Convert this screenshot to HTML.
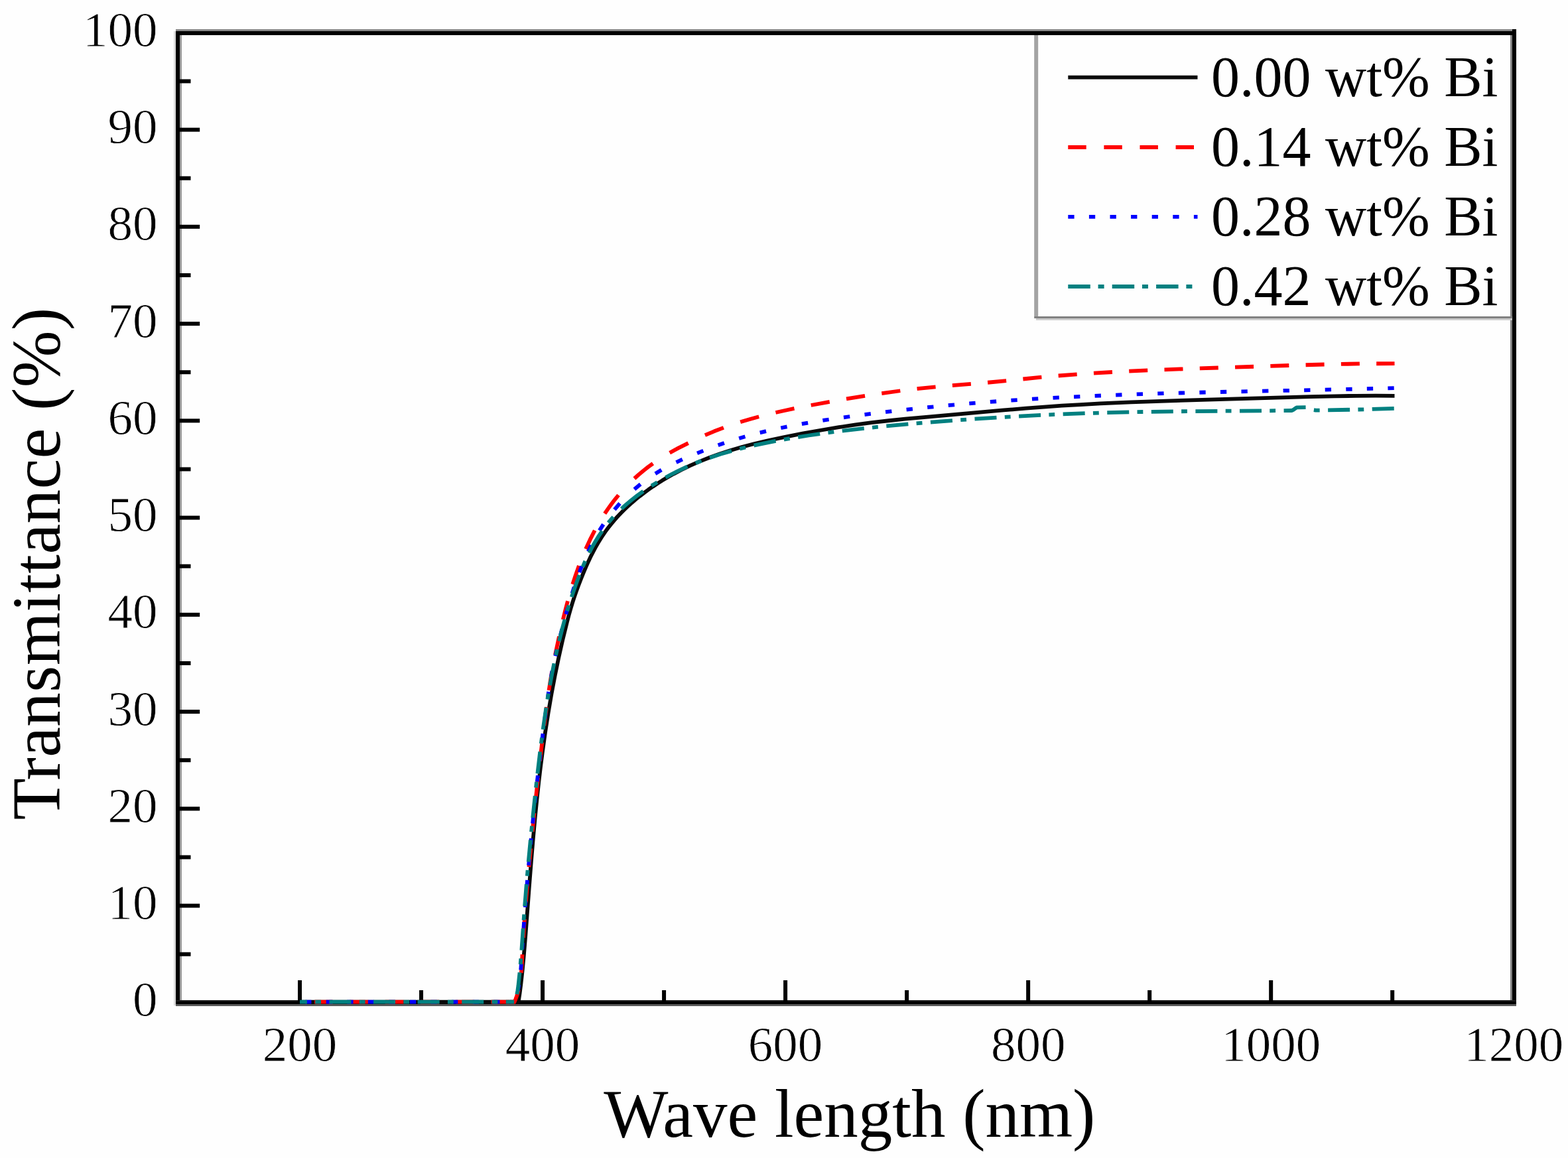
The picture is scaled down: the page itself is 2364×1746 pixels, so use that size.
<!DOCTYPE html>
<html><head><meta charset="utf-8"><title>Transmittance</title>
<style>html,body{margin:0;padding:0;background:#fefefe;}svg{display:block;}</style>
</head><body>
<svg width="2364" height="1746" viewBox="0 0 2364 1746"><rect width="2364" height="1746" fill="#fefefe"/><g fill="#000"><rect x="262" y="47" width="3" height="1469" fill="#dcdcdc"/><rect x="271" y="53" width="3" height="1455" fill="#9a9a9a"/><rect x="265" y="44" width="6" height="1473" fill="#000"/><rect x="265" y="44" width="2021" height="3.5" fill="#888"/><rect x="265" y="47" width="2021" height="6" fill="#000"/><rect x="2277" y="53" width="3" height="1455" fill="#808080"/><rect x="2280" y="44" width="6" height="1473" fill="#000"/><rect x="265" y="1508" width="2021" height="2" fill="#1e1e1e"/><rect x="265" y="1510" width="2021" height="4" fill="#000"/><rect x="265" y="1514" width="2021" height="3" fill="#5a5a5a"/></g><g fill="#000"><rect x="449.02" y="1478" width="6" height="32"/><rect x="632.04" y="1493" width="6" height="17"/><rect x="815.06" y="1478" width="6" height="32"/><rect x="998.08" y="1493" width="6" height="17"/><rect x="1181.10" y="1478" width="6" height="32"/><rect x="1364.12" y="1493" width="6" height="17"/><rect x="1547.14" y="1478" width="6" height="32"/><rect x="1730.16" y="1493" width="6" height="17"/><rect x="1913.18" y="1478" width="6" height="32"/><rect x="2096.20" y="1493" width="6" height="17"/><rect x="270" y="1435.72" width="17.50" height="6"/><rect x="270" y="1362.60" width="31.20" height="6"/><rect x="270" y="1289.47" width="17.50" height="6"/><rect x="270" y="1216.35" width="31.20" height="6"/><rect x="270" y="1143.22" width="17.50" height="6"/><rect x="270" y="1070.10" width="31.20" height="6"/><rect x="270" y="996.97" width="17.50" height="6"/><rect x="270" y="923.85" width="31.20" height="6"/><rect x="270" y="850.72" width="17.50" height="6"/><rect x="270" y="777.60" width="31.20" height="6"/><rect x="270" y="704.47" width="17.50" height="6"/><rect x="270" y="631.35" width="31.20" height="6"/><rect x="270" y="558.22" width="17.50" height="6"/><rect x="270" y="485.10" width="31.20" height="6"/><rect x="270" y="411.97" width="17.50" height="6"/><rect x="270" y="338.85" width="31.20" height="6"/><rect x="270" y="265.72" width="17.50" height="6"/><rect x="270" y="192.60" width="31.20" height="6"/><rect x="270" y="119.47" width="17.50" height="6"/></g><path d="M452.00,1510.70 781.55,1510.76 783.49,1498.40 785.36,1483.95 787.52,1464.40 789.58,1443.03 792.32,1410.26 797.89,1336.53 800.89,1298.48 803.86,1263.49 806.78,1231.74 809.37,1205.87 812.06,1181.18 814.88,1157.28 817.85,1134.09 822.08,1103.94 826.61,1074.72 831.46,1046.37 836.63,1018.87 842.26,991.58 848.27,964.89 854.94,937.75 857.82,926.85 860.55,917.14 863.13,908.60 865.82,900.31 868.80,891.70 872.11,882.67 875.90,872.86 879.75,863.36 883.46,854.66 887.18,846.39 890.66,839.11 894.21,832.08 897.78,825.42 901.41,819.03 905.12,812.92 908.93,807.01 912.81,801.38 916.80,795.95 921.20,790.34 925.84,784.78 930.71,779.30 935.75,773.95 941.01,768.67 946.56,763.40 952.33,758.21 958.32,753.11 964.51,748.09 970.99,743.11 977.66,738.24 984.52,733.47 991.49,728.86 998.64,724.36 1005.90,720.02 1013.33,715.80 1026.79,708.68 1040.77,701.94 1055.16,695.63 1070.02,689.73 1085.43,684.21 1101.56,679.00 1118.50,674.06 1136.53,669.32 1157.75,664.30 1181.21,659.29 1209.86,653.70 1238.66,648.51 1264.70,644.21 1289.92,640.45 1314.13,637.24 1339.76,634.25 1364.55,631.69 1393.09,629.02 1513.22,618.48 1546.57,615.67 1573.97,613.56 1600.80,611.73 1629.11,610.02 1658.80,608.47 1704.99,606.43 1757.28,604.55 1975.30,598.13 2011.79,597.31 2044.18,596.84 2074.22,596.72 2102.50,596.93" fill="none" stroke="#0a0a0a" stroke-width="5.8" stroke-linejoin="round"/><path d="M474.08,1510.70 502.08,1510.70 M527.35,1510.70 555.35,1510.70 M580.63,1510.70 608.63,1510.70 M633.90,1510.70 661.90,1510.70 M687.18,1510.70 715.18,1510.70 M740.45,1510.70 768.45,1510.70 M769.00,1510.70 775.00,1510.70 775.48,1510.87 777.33,1506.55 779.02,1501.98 780.52,1497.26 781.85,1492.32 M785.83,1467.04 786.62,1456.38 787.54,1439.04 M789.00,1413.77 790.90,1385.77 M792.83,1360.49 795.19,1332.49 M797.47,1307.22 800.13,1279.22 M802.63,1253.94 805.48,1225.94 M808.13,1200.67 811.18,1172.67 M814.03,1147.39 817.31,1119.39 M820.40,1094.12 823.99,1066.12 M827.54,1040.84 829.79,1026.42 832.09,1012.84 M836.96,987.57 842.98,959.57 M848.80,934.29 852.40,919.79 855.96,906.29 M863.33,881.02 868.01,866.67 872.87,853.02 M883.09,827.74 889.72,813.42 896.72,799.74 M911.73,774.47 916.71,767.10 921.85,759.95 927.14,753.05 932.51,746.47 M956.38,721.50 963.11,715.48 970.01,709.70 977.09,704.14 984.38,698.79 M1009.65,682.70 1022.13,675.90 1037.65,668.06 M1062.93,656.15 1076.70,650.33 1090.93,644.84 M1116.20,636.28 1129.90,632.18 1144.20,628.24 M1169.48,622.01 1183.05,618.99 1197.48,615.96 M1222.75,611.02 1250.75,605.89 M1276.03,601.48 1304.03,596.90 M1329.30,593.08 1357.30,589.25 M1382.58,586.21 1410.58,583.35 M1435.85,581.14 1463.85,578.87 M1489.13,576.75 1517.13,574.11 M1542.40,571.49 1570.40,568.72 M1595.68,566.51 1623.68,564.36 M1648.95,562.65 1676.95,560.99 M1702.23,559.67 1730.23,558.38 M1755.50,557.33 1783.50,556.29 M1808.78,555.42 1836.78,554.49 M1862.05,553.68 1890.05,552.76 M1915.33,551.92 1943.33,551.02 M1968.60,550.26 1996.60,549.50 M2021.88,548.94 2049.88,548.47 M2075.15,548.23 2102.50,548.18" fill="none" stroke="#ff0000" stroke-width="5.8" stroke-linejoin="round"/><path d="M460.16,1510.70 469.46,1510.70 M491.71,1510.70 501.01,1510.70 M523.27,1510.70 532.57,1510.70 M554.82,1510.70 564.12,1510.70 M586.38,1510.70 595.68,1510.70 M617.93,1510.70 627.23,1510.70 M649.49,1510.70 658.79,1510.70 M681.04,1510.70 690.34,1510.70 M712.60,1510.70 721.90,1510.70 M744.15,1510.70 753.45,1510.70 M769.50,1510.70 770.44,1510.70 M780.73,1494.09 782.53,1484.79 M785.17,1462.54 785.87,1453.24 M787.28,1430.98 787.88,1421.68 M789.41,1399.43 790.08,1390.13 M791.75,1367.87 792.47,1358.57 M794.28,1336.32 795.06,1327.02 M797.01,1304.76 797.85,1295.46 M799.92,1273.21 800.82,1263.91 M803.02,1241.65 803.97,1232.35 M806.31,1210.10 807.31,1200.80 M809.78,1178.54 810.84,1169.24 M813.45,1146.99 814.57,1137.69 M817.30,1115.43 818.48,1106.13 M821.36,1083.88 822.59,1074.58 M825.71,1052.32 827.12,1043.02 M830.84,1020.76 832.58,1011.46 M837.27,989.21 839.43,979.91 M844.92,957.65 847.31,948.35 M853.26,926.10 855.88,916.80 M862.59,894.54 865.61,885.24 M873.49,862.99 877.11,853.69 M886.77,831.43 891.32,822.13 M903.73,799.88 909.71,790.58 M926.40,768.32 934.52,759.02 M956.40,737.69 965.70,729.97 M987.96,714.20 997.26,708.59 M1019.51,697.01 1028.81,692.73 M1051.07,683.34 1060.37,679.64 M1082.62,671.28 1091.92,668.04 M1114.18,660.98 1123.48,658.29 M1145.73,652.40 1155.03,650.15 M1177.29,645.22 1186.59,643.32 M1208.84,639.14 1218.14,637.52 M1240.40,633.91 1249.70,632.50 M1271.95,629.29 1281.25,628.00 M1303.51,625.05 1312.81,623.86 M1335.06,621.13 1344.36,620.03 M1366.62,617.52 1375.92,616.51 M1398.17,614.21 1407.47,613.29 M1429.73,611.18 1439.03,610.34 M1461.28,608.43 1470.58,607.67 M1492.84,605.95 1502.14,605.26 M1524.40,603.71 1533.70,603.09 M1555.95,601.70 1565.25,601.15 M1587.51,599.90 1596.81,599.41 M1619.06,598.30 1628.36,597.86 M1650.62,596.87 1659.92,596.48 M1682.17,595.59 1691.47,595.25 M1713.73,594.46 1723.03,594.15 M1745.28,593.45 1754.58,593.17 M1776.84,592.55 1786.14,592.30 M1808.39,591.73 1817.69,591.50 M1839.95,590.98 1849.25,590.77 M1871.50,590.28 1880.80,590.08 M1903.06,589.62 1912.36,589.42 M1934.61,588.97 1943.91,588.78 M1966.17,588.32 1975.47,588.13 M1997.72,587.66 2007.02,587.46 M2029.28,586.96 2038.58,586.74 M2060.83,586.21 2070.13,585.97 M2092.39,585.38 2101.69,585.12" fill="none" stroke="#0000ff" stroke-width="5.8" stroke-linejoin="round"/><path d="M452.00,1510.70 462.90,1510.70 M475.20,1510.70 484.00,1510.70 M496.48,1510.70 529.48,1510.70 M541.78,1510.70 550.58,1510.70 M563.06,1510.70 596.06,1510.70 M608.36,1510.70 617.16,1510.70 M629.64,1510.70 662.64,1510.70 M674.94,1510.70 683.74,1510.70 M696.22,1510.70 729.22,1510.70 M741.52,1510.70 750.32,1510.70 M762.80,1510.70 770.00,1510.70 M770.00,1510.70 775.10,1510.70 M779.33,1499.31 780.38,1493.66 781.30,1487.26 783.53,1466.31 M784.65,1454.01 785.39,1445.21 M786.37,1432.73 788.71,1399.73 M789.57,1387.43 790.19,1378.63 M791.12,1366.15 793.76,1333.15 M794.81,1320.85 795.58,1312.05 M796.70,1299.57 799.83,1266.57 M801.04,1254.27 801.93,1245.47 M803.20,1232.99 806.69,1199.99 M808.02,1187.69 808.99,1178.89 M810.39,1166.41 814.27,1133.41 M815.80,1121.11 816.94,1112.31 M818.61,1099.83 823.42,1066.83 M825.38,1054.53 826.85,1045.73 M829.03,1033.25 832.14,1016.55 835.40,1000.25 M838.02,987.95 840.00,979.15 M842.93,966.68 847.12,950.01 851.55,933.68 M855.10,921.38 857.77,912.58 M861.75,900.10 867.67,882.74 873.49,867.10 M878.49,854.80 882.35,846.00 M888.32,833.52 892.96,824.66 897.78,816.17 902.75,808.13 907.87,800.52 M917.13,788.22 920.85,783.77 924.70,779.42 M936.86,767.10 944.36,760.36 952.36,753.71 960.85,747.16 969.86,740.70 M982.16,732.56 990.96,727.13 M1003.44,719.93 1011.53,715.57 1019.72,711.38 1028.00,707.37 1036.44,703.49 M1048.74,698.23 1057.54,694.74 M1070.02,690.14 1086.21,684.77 1103.02,679.85 M1115.32,676.61 1124.12,674.46 M1136.60,671.62 1152.24,668.32 1169.60,664.94 M1181.90,662.69 1190.70,661.15 M1203.18,659.07 1219.52,656.50 1236.18,654.06 M1248.48,652.37 1257.28,651.21 M1269.76,649.64 1302.76,645.84 M1315.06,644.54 1323.86,643.65 M1336.34,642.43 1369.34,639.44 M1381.64,638.39 1390.44,637.65 M1402.92,636.64 1435.92,634.10 M1448.22,633.20 1457.02,632.58 M1469.50,631.71 1502.50,629.58 M1514.80,628.84 1523.60,628.33 M1536.08,627.63 1569.08,625.94 M1581.38,625.36 1590.18,624.97 M1602.66,624.44 1635.66,623.20 M1647.96,622.80 1656.76,622.53 M1669.24,622.18 1702.24,621.40 M1714.54,621.16 1723.34,621.00 M1735.82,620.80 1768.82,620.36 M1781.12,620.23 1789.92,620.14 M1802.40,620.03 1835.40,619.79 M1847.70,619.71 1856.50,619.65 M1868.98,619.57 1901.98,619.37 M1914.28,619.28 1923.08,619.22 M1935.56,619.11 1947.05,619.01 1947.74,618.92 1948.62,618.60 1949.60,618.06 1953.73,615.08 1954.71,614.59 1955.60,614.36 1968.56,614.21 M1980.86,618.18 1983.50,618.60 1989.66,618.53 M2002.14,618.34 2035.14,617.75 M2047.44,617.49 2056.24,617.28 M2068.72,616.96 2101.72,615.94" fill="none" stroke="#008080" stroke-width="5.8" stroke-linejoin="round"/><g font-family="'Liberation Serif', 'Times New Roman', serif" font-size="75" fill="#000" stroke="#fefefe" stroke-width="0.8"><text x="237.4" y="1532.45" text-anchor="end">0</text><text x="237.4" y="1386.20" text-anchor="end">10</text><text x="237.4" y="1239.95" text-anchor="end">20</text><text x="237.4" y="1093.70" text-anchor="end">30</text><text x="237.4" y="947.45" text-anchor="end">40</text><text x="237.4" y="801.20" text-anchor="end">50</text><text x="237.4" y="654.95" text-anchor="end">60</text><text x="237.4" y="508.70" text-anchor="end">70</text><text x="237.4" y="362.45" text-anchor="end">80</text><text x="237.4" y="216.20" text-anchor="end">90</text><text x="237.4" y="69.95" text-anchor="end">100</text><text x="452.02" y="1599.6" text-anchor="middle">200</text><text x="818.06" y="1599.6" text-anchor="middle">400</text><text x="1184.10" y="1599.6" text-anchor="middle">600</text><text x="1550.14" y="1599.6" text-anchor="middle">800</text><text x="1916.18" y="1599.6" text-anchor="middle">1000</text><text x="2282.22" y="1599.6" text-anchor="middle">1200</text></g><text font-family="'Liberation Serif', 'Times New Roman', serif" font-size="103" x="910.3" y="1713.7">Wave length (nm)</text><text font-family="'Liberation Serif', 'Times New Roman', serif" font-size="103" textLength="772.5" lengthAdjust="spacing" transform="translate(89.6,1236.3) rotate(-90)">Transmittance (%)</text><rect x="1559.2" y="53" width="6" height="424" fill="#a4a4a4"/><rect x="1559.2" y="477" width="721" height="3" fill="#818181"/><rect x="1562" y="480" width="718" height="2.8" fill="#cacaca"/><line x1="1610.3" y1="116.6" x2="1805.5" y2="116.6" stroke="#0a0a0a" stroke-width="5.8"/><text font-family="'Liberation Serif', 'Times New Roman', serif" font-size="86" x="1826" y="144.5">0.00 wt% Bi</text><line x1="1610.3" y1="222" x2="1805.5" y2="222" stroke="#ff0000" stroke-width="5.8" stroke-dasharray="27.4 26.7"/><text font-family="'Liberation Serif', 'Times New Roman', serif" font-size="86" x="1826" y="249.6">0.14 wt% Bi</text><line x1="1610.3" y1="326.9" x2="1805.5" y2="326.9" stroke="#0000ff" stroke-width="5.8" stroke-dasharray="9.3 22.3"/><text font-family="'Liberation Serif', 'Times New Roman', serif" font-size="86" x="1826" y="354.7">0.28 wt% Bi</text><line x1="1610.3" y1="432" x2="1805.5" y2="432" stroke="#008080" stroke-width="5.8" stroke-dasharray="33.5 11.8 9 12.1"/><text font-family="'Liberation Serif', 'Times New Roman', serif" font-size="86" x="1826" y="459.8">0.42 wt% Bi</text></svg>
</body></html>
